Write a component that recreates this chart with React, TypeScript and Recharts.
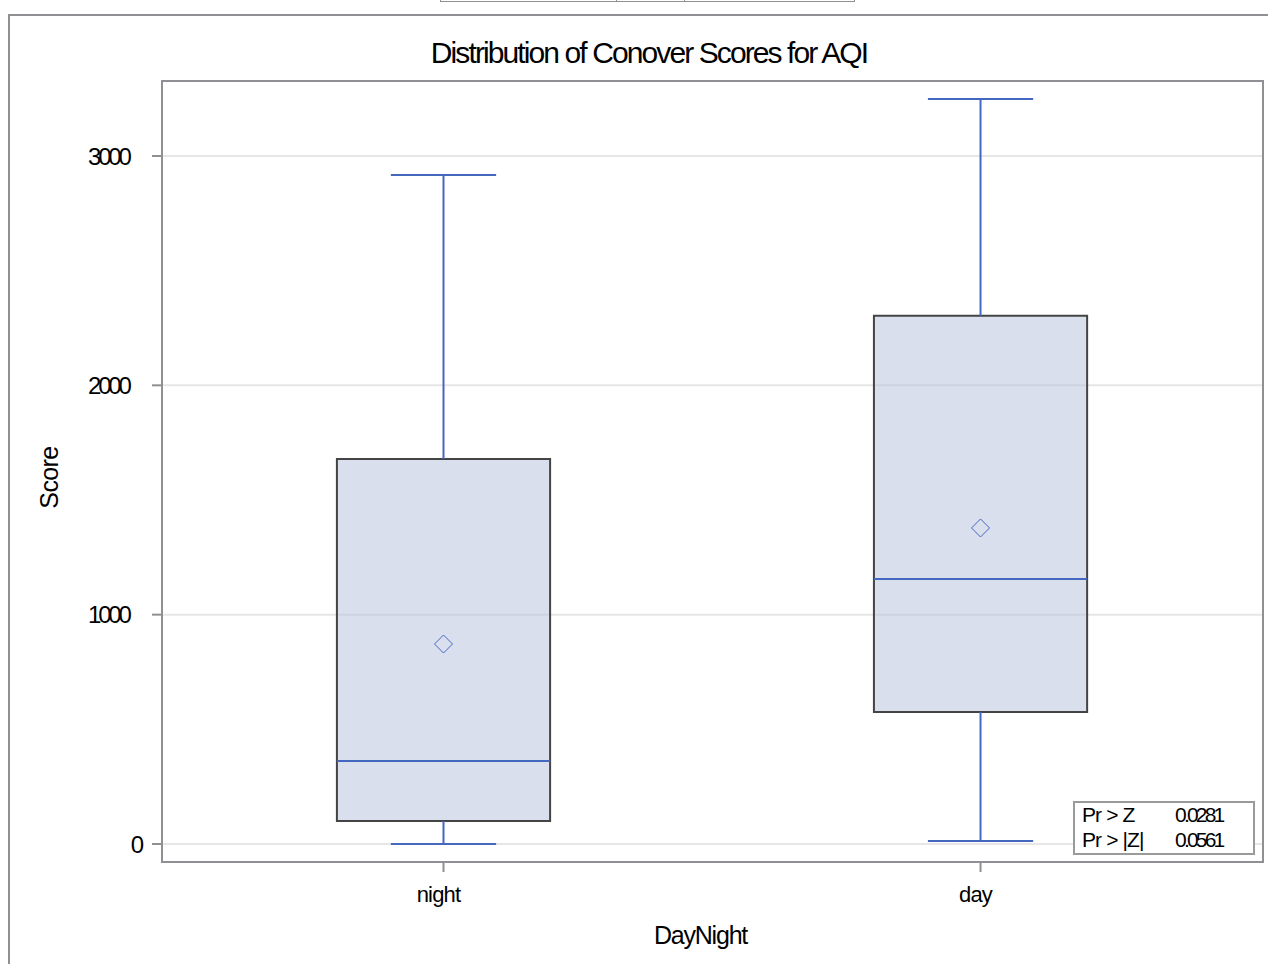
import React from 'react';
import {
  ComposedChart, XAxis, YAxis, CartesianGrid, ReferenceArea, ReferenceLine, Scatter, Label,
} from 'recharts';

const categories = ['night', 'day'];
const whiskerLow = [0, 13];
const q1 = [100, 576];
const median = [362, 1156];
const q3 = [1679, 2303];
const whiskerHigh = [2917, 3249];
const mean = [872, 1378];
const yTicks = [0, 1000, 2000, 3000];
const statLabels = ['Pr > Z', 'Pr > |Z|'];
const statValues = ['0.0281', '0.0561'];

const FONT = '"Liberation Sans", Arial, sans-serif';
const BLUE = '#4467c0';
const FRAME = '#8e9094';

const chartData = categories.map((c, i) => ({ x: i, mean: mean[i], name: c }));

const BOX_HALF = 0.1985;
const CAP_HALF = 0.098;

const Diamond = (props: any) => {
  const { cx, cy } = props;
  if (cx == null || cy == null) return null;
  const r = 9;
  return (
    <path
      d={`M${cx},${cy - r} L${cx + r},${cy} L${cx},${cy + r} L${cx - r},${cy} Z`}
      fill="none"
      stroke={BLUE}
      strokeWidth={1}
    />
  );
};

// SAS-like tick: labels start where a wider font would start, glyphs are condensed
const YTick = (props: any) => {
  const { x, y, payload } = props;
  const s = String(payload.value);
  const startX = x + 18 - s.length * 14.25;
  return (
    <text x={startX} y={y} dy="0.355em" textAnchor="start" fontSize={24} letterSpacing={-3.2} fontFamily={FONT} fill="#000">
      {s}
    </text>
  );
};

export default function App() {
  return (
    <div style={{ position: 'absolute', left: 0, top: 0, width: 1268, height: 964, background: '#fff', overflow: 'hidden', fontFamily: FONT }}>
      {/* outer frame */}
      <div style={{ position: 'absolute', left: 8, top: 14, width: 1300, height: 1000, borderLeft: `2px solid ${FRAME}`, borderTop: `2px solid ${FRAME}` }} />
      {/* fragment of a table above */}
      <div style={{ position: 'absolute', left: 440, top: -10, width: 413, height: 11, border: `1px solid ${FRAME}`, borderTop: 'none' }} />
      <div style={{ position: 'absolute', left: 616, top: 0, width: 1, height: 2, background: FRAME }} />
      <div style={{ position: 'absolute', left: 684, top: 0, width: 1, height: 2, background: FRAME }} />
      {/* title */}
      <div style={{ position: 'absolute', left: 0, width: 1298, top: 35, textAlign: 'center', fontSize: 30, letterSpacing: -1.9, color: '#000', lineHeight: '36px' }}>
        Distribution of Conover Scores for AQI
      </div>
      <ComposedChart
        width={1268}
        height={964}
        data={chartData}
        margin={{ top: 81, right: 5, bottom: 42, left: 82 }}
        style={{ position: 'absolute', left: 0, top: 0 }}
      >
        <CartesianGrid horizontal vertical={false} stroke="#e6e6e6" strokeWidth={2} />
        <XAxis
          type="number"
          dataKey="x"
          domain={[-0.5242, 1.526]}
          ticks={[0, 1]}
          allowDataOverflow
          tickFormatter={(v: number) => categories[v] ?? ''}
          height={60}
          axisLine={{ stroke: FRAME, strokeWidth: 2 }}
          tickLine={{ stroke: FRAME, strokeWidth: 2 }}
          tickSize={10}
          tickMargin={14}
          tick={{ fill: '#000', fontSize: 22, fontFamily: FONT, letterSpacing: -0.8, dx: -5 }}
        >
          <Label
            content={(p: any) => {
              const vb = p.viewBox;
              return (
                <text x={vb.x + vb.width / 2 - 12} y={vb.y + vb.height + 22} textAnchor="middle" fontSize={25} letterSpacing={-1.2} fontFamily={FONT} fill="#000">
                  DayNight
                </text>
              );
            }}
          />
        </XAxis>
        <YAxis
          type="number"
          domain={[-78.5, 3327]}
          ticks={yTicks}
          allowDataOverflow
          width={80}
          axisLine={{ stroke: FRAME, strokeWidth: 2 }}
          tickLine={{ stroke: FRAME, strokeWidth: 2 }}
          tickSize={10}
          tickMargin={25}
          tick={<YTick />}
        >
          <Label
            content={(p: any) => {
              const vb = p.viewBox;
              const x = vb.x - 24;
              const y = vb.y + vb.height / 2 + 6;
              return (
                <text x={x} y={y} transform={`rotate(-90, ${x}, ${y})`} textAnchor="middle" fontSize={25} letterSpacing={-0.6} fontFamily={FONT} fill="#000">
                  Score
                </text>
              );
            }}
          />
        </YAxis>
        {/* plot border */}
        <ReferenceArea x1={-0.5242} x2={1.526} y1={-78.5} y2={3327} fill="none" stroke={FRAME} strokeWidth={2} ifOverflow="visible" />
        {categories.map((c, i) => (
          <ReferenceLine key={`wu${c}`} segment={[{ x: i, y: q3[i] }, { x: i, y: whiskerHigh[i] }]} stroke={BLUE} strokeWidth={2} />
        ))}
        {categories.map((c, i) => (
          <ReferenceLine key={`wl${c}`} segment={[{ x: i, y: whiskerLow[i] }, { x: i, y: q1[i] }]} stroke={BLUE} strokeWidth={2} />
        ))}
        {categories.map((c, i) => (
          <ReferenceLine key={`cu${c}`} segment={[{ x: i - CAP_HALF, y: whiskerHigh[i] }, { x: i + CAP_HALF, y: whiskerHigh[i] }]} stroke={BLUE} strokeWidth={2} />
        ))}
        {categories.map((c, i) => (
          <ReferenceLine key={`cl${c}`} segment={[{ x: i - CAP_HALF, y: whiskerLow[i] }, { x: i + CAP_HALF, y: whiskerLow[i] }]} stroke={BLUE} strokeWidth={2} />
        ))}
        {categories.map((c, i) => (
          <ReferenceArea key={`box${c}`} x1={i - BOX_HALF} x2={i + BOX_HALF} y1={q1[i]} y2={q3[i]} fill="#b9c4de" fillOpacity={0.55} stroke="#444444" strokeWidth={2} strokeOpacity={1} />
        ))}
        {categories.map((c, i) => (
          <ReferenceLine key={`med${c}`} segment={[{ x: i - BOX_HALF, y: median[i] }, { x: i + BOX_HALF, y: median[i] }]} stroke={BLUE} strokeWidth={2} />
        ))}
        <Scatter dataKey="mean" shape={Diamond} isAnimationActive={false} />
      </ComposedChart>
      {/* statistics inset */}
      <div style={{ position: 'absolute', left: 1073, top: 801, width: 178, height: 50, border: '2px solid #9a9a9a', background: '#fff' }}>
        {statLabels.map((l, i) => (
          <div key={l} style={{ position: 'absolute', left: 7, top: 0 + i * 25, fontSize: 21, lineHeight: '24px', letterSpacing: -0.9, color: '#000', whiteSpace: 'pre' }}>
            {l}
          </div>
        ))}
        {statValues.map((v, i) => (
          <div key={v} style={{ position: 'absolute', left: 100, top: 0 + i * 25, fontSize: 21, lineHeight: '24px', letterSpacing: -2.8, color: '#000' }}>
            {v}
          </div>
        ))}
      </div>
    </div>
  );
}
